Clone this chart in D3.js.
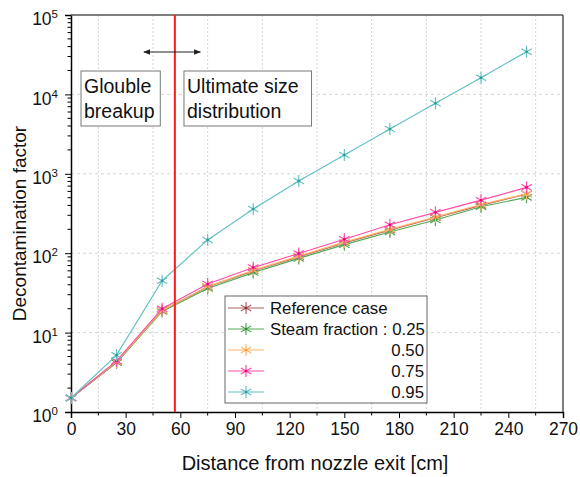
<!DOCTYPE html>
<html>
<head>
<meta charset="utf-8">
<script src="https://d3js.org/d3.v7.min.js"></script>
<style>
  body { margin: 0; background: #fff; }
  text { font-family: "Liberation Sans", Arial, sans-serif; }
</style>
</head>
<body>
<svg id="chart" width="580" height="477"></svg>
<script>
  const distances = [0, 25, 50, 75, 100, 125, 150, 175, 200, 225, 250];
  const refCase = [1.5, 4.2, 19, 37.5, 60, 90, 135, 195, 280, 400, 555];
  const steam025 = [1.5, 4.2, 18.5, 36, 57, 86, 128, 185, 262, 385, 505];
  const steam050 = [1.5, 4.3, 19, 38, 61, 92, 138, 200, 285, 410, 560];
  const steam075 = [1.5, 4.4, 20, 41, 66, 99, 150, 228, 327, 465, 675];
  const steam095 = [1.5, 5.2, 45, 147, 360, 810, 1725, 3660, 7730, 16200, 34500];
  const seriesNames = ["Reference case", "Steam fraction : 0.25", "0.50", "0.75", "0.95"];
  const xTicks = [0, 30, 60, 90, 120, 150, 180, 210, 240, 270];
  const yTicks = [1, 10, 100, 1000, 10000, 100000];
  const boundary = 57;

  const series = [
    { name: seriesNames[0], values: refCase, color: "#b06060", dark: "#8a2e2e" },
    { name: seriesNames[1], values: steam025, color: "#55aa55", dark: "#2e8a2e" },
    { name: seriesNames[2], values: steam050, color: "#ffb366", dark: "#ff9933" },
    { name: seriesNames[3], values: steam075, color: "#ff4da6", dark: "#e6007a" },
    { name: seriesNames[4], values: steam095, color: "#66c2c2", dark: "#2a9a9a" }
  ];

  const svg = d3.select("#chart");
  const margin = { top: 15, right: 17, bottom: 65, left: 71 };
  const width = 580 - margin.left - margin.right,
    height = 477 - margin.top - margin.bottom;
  const g = svg.append("g").attr("transform", `translate(${margin.left},${margin.top})`);

  const x = d3.scaleLinear().domain([0, 270]).range([0, width]);
  const y = d3.scaleLog().domain([1, 100000]).range([height, 0]);

  // grid
  const gridX = d3.range(15, 270, 30);
  g.selectAll(".gx").data(gridX).enter().append("line")
    .attr("x1", d => x(d)).attr("x2", d => x(d))
    .attr("y1", 0).attr("y2", height)
    .attr("stroke", "#d4d4d4").attr("stroke-dasharray", "2,2");
  g.selectAll(".gy").data(yTicks.slice(1, -1)).enter().append("line")
    .attr("x1", 0).attr("x2", width)
    .attr("y1", d => y(d)).attr("y2", d => y(d))
    .attr("stroke", "#d4d4d4").attr("stroke-dasharray", "3,3");

  // x axis
  const xAxis = g.append("g").attr("transform", `translate(0,${height})`)
    .call(d3.axisBottom(x).tickValues(xTicks).tickSize(6).tickPadding(5));
  xAxis.append("g").selectAll("line").data(d3.range(15, 270, 30)).enter().append("line")
    .attr("x1", d => x(d)).attr("x2", d => x(d)).attr("y1", 0).attr("y2", 3.5)
    .attr("stroke", "#000");
  xAxis.selectAll(".tick text").attr("font-size", 17.5).attr("fill", "#111");
  xAxis.select(".domain").attr("stroke-width", 1.5);

  // y axis
  const yAxis = g.append("g")
    .call(d3.axisLeft(y).tickValues(yTicks).tickSize(6).tickPadding(4).tickFormat(() => ""));
  yAxis.select(".domain").attr("stroke-width", 1.5);
  const minors = [];
  for (let e = 0; e < 5; e++) for (let m = 2; m < 10; m++) minors.push(m * Math.pow(10, e));
  yAxis.append("g").selectAll("line").data(minors).enter().append("line")
    .attr("x1", 0).attr("x2", -3.5).attr("y1", d => y(d)).attr("y2", d => y(d))
    .attr("stroke", "#000");
  yAxis.selectAll(".tick").each(function (d) {
    const t = d3.select(this).select("text").text(null)
      .attr("x", -13).attr("dy", "0.55em").attr("font-size", 17.5).attr("fill", "#111");
    t.append("tspan").text("10");
    t.append("tspan").attr("dy", "-0.6em").attr("font-size", 11.5)
      .text(Math.round(Math.log10(d)));
  });

  // frame top/right
  g.append("line").attr("x1", 0).attr("x2", width).attr("y1", 0).attr("y2", 0)
    .attr("stroke", "#555").attr("stroke-width", 1.5);
  g.append("line").attr("x1", width).attr("x2", width).attr("y1", 0).attr("y2", height)
    .attr("stroke", "#555").attr("stroke-width", 1.5);

  // asterisk marker
  function star(r) {
    const a = Math.PI / 3;
    let p = "";
    for (let i = 0; i < 3; i++) {
      const dx = r * Math.sin(i * a), dy = r * Math.cos(i * a);
      p += `M${-dx},${-dy}L${dx},${dy}`;
    }
    return p;
  }

  const line = d3.line().x(d => x(d[0])).y(d => y(d[1]));
  series.forEach(s => {
    const pts = distances.map((d, i) => [d, s.values[i]]);
    g.append("path").datum(pts).attr("d", line)
      .attr("fill", "none").attr("stroke", s.color).attr("stroke-width", 1.2);
    g.selectAll(null).data(pts).enter().append("path")
      .attr("transform", d => `translate(${x(d[0])},${y(d[1])})`)
      .attr("d", star(6)).attr("stroke", s.color).attr("stroke-width", 1.2).attr("fill", "none");
    g.selectAll(null).data(pts).enter().append("circle")
      .attr("cx", d => x(d[0])).attr("cy", d => y(d[1])).attr("r", 1.3)
      .attr("fill", s.dark);
  });

  // boundary line
  g.append("line").attr("x1", x(boundary)).attr("x2", x(boundary))
    .attr("y1", 0).attr("y2", height).attr("stroke", "#ff1a1a").attr("stroke-width", 2);

  // double arrow
  const ay = 37;
  svg.append("defs").append("marker").attr("id", "ah")
    .attr("viewBox", "0 0 10 10").attr("refX", 9).attr("refY", 5)
    .attr("markerWidth", 7).attr("markerHeight", 7).attr("orient", "auto-start-reverse")
    .append("path").attr("d", "M0,1L10,5L0,9Z").attr("fill", "#222");
  g.append("line").attr("x1", x(40)).attr("x2", x(71))
    .attr("y1", ay).attr("y2", ay).attr("stroke", "#222").attr("stroke-width", 1)
    .attr("marker-start", "url(#ah)").attr("marker-end", "url(#ah)");

  // annotation boxes
  const notes = [
    { x0: 5.5, x1: 49, lines: ["Glouble", "breakup"] },
    { x0: 62, x1: 132, lines: ["Ultimate size", "distribution"] }
  ];
  notes.forEach(n => {
    g.append("rect").attr("x", x(n.x0)).attr("y", 56)
      .attr("width", x(n.x1) - x(n.x0)).attr("height", 55)
      .attr("fill", "#fff").attr("stroke", "#777").attr("stroke-width", 1);
    n.lines.forEach((t, i) => {
      g.append("text").attr("x", x(n.x0) + 3).attr("y", 78 + i * 25)
        .attr("font-size", 19.5).attr("fill", "#111").text(t);
    });
  });

  // legend
  const lg = svg.append("g").attr("transform", "translate(225,296)");
  lg.append("rect").attr("width", 202).attr("height", 107)
    .attr("fill", "#fff").attr("stroke", "#666").attr("stroke-width", 1);
  series.forEach((s, i) => {
    const ry = 12 + i * 21;
    lg.append("line").attr("x1", 3).attr("x2", 39).attr("y1", ry).attr("y2", ry)
      .attr("stroke", s.color).attr("stroke-width", 1.2);
    lg.append("path").attr("transform", `translate(21,${ry})`).attr("d", star(6))
      .attr("stroke", s.color).attr("stroke-width", 1.2).attr("fill", "none");
    lg.append("circle").attr("cx", 21).attr("cy", ry).attr("r", 1.3).attr("fill", s.dark);
    const t = lg.append("text").attr("y", ry + 6).attr("font-size", 16.8).attr("fill", "#111");
    if (i < 2) t.attr("x", 45).text(s.name);
    else t.attr("x", 199).attr("text-anchor", "end").text(s.name);
  });

  // axis titles
  svg.append("text").attr("x", margin.left + width / 2 - 2).attr("y", 470)
    .attr("text-anchor", "middle").attr("font-size", 20).attr("fill", "#111")
    .text("Distance from nozzle exit [cm]");
  svg.append("text").attr("transform", `translate(26,${margin.top + height / 2 + 10}) rotate(-90)`)
    .attr("text-anchor", "middle").attr("font-size", 19).attr("fill", "#111")
    .text("Decontamination factor");
</script>
</body>
</html>
